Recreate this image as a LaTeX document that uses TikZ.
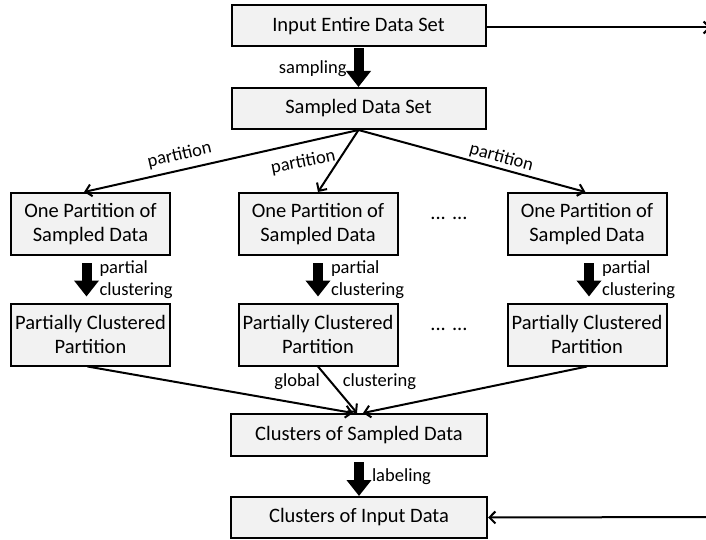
\documentclass[tikz,border=0pt]{standalone}
\usepackage{fontspec}
\setmainfont{Carlito}
\usetikzlibrary{arrows.meta,calc}
\definecolor{boxgray}{HTML}{F2F2F2}
\begin{document}
\begin{tikzpicture}[x=1pt,y=-1pt,
  box/.style={draw,line width=2pt,fill=boxgray,inner sep=0pt,align=center,
    font=\fontsize{20.5}{23.5}\selectfont},
  widebox/.style={box,minimum width=254pt,minimum height=41pt},
  smallbox/.style={box,minimum width=159pt,minimum height=62pt},
  lbl/.style={font=\fontsize{18.5}{21.5}\selectfont,inner sep=1pt,align=left},
  conn/.style={line width=2pt,-{Straight Barb[length=6pt,width=12pt,line width=2pt]}},
  bigarrow/.style={line width=10pt,-{Triangle[length=16pt,width=24pt]}}]
\useasboundingbox (0,0) rectangle (706,540);

\node[widebox] (inp) at (358.5,26) {Input Entire Data Set};
\node[widebox] (samp) at (358.5,108.5) {Sampled Data Set};
\node[smallbox] (p1) at (90.5,224) {One Partition of\\Sampled Data};
\node[smallbox] (p2) at (318,224) {One Partition of\\Sampled Data};
\node[smallbox] (p3) at (587,224) {One Partition of\\Sampled Data};
\node[smallbox] (c1) at (90.5,334.5) {Partially Clustered\\Partition};
\node[smallbox] (c2) at (318,334.5) {Partially Clustered\\Partition};
\node[smallbox] (c3) at (587,334.5) {Partially Clustered\\Partition};
\node[widebox,minimum width=256pt,minimum height=42pt] (csd) at (359,435) {Clusters of Sampled Data};
\node[widebox,minimum width=256pt,minimum height=41pt] (cid) at (359,517.5) {Clusters of Input Data};

\node[font=\fontsize{20.5}{23.5}\selectfont] (d1) at (449,218) {... ...};
\node[font=\fontsize{20.5}{23.5}\selectfont] (d2) at (449,329) {... ...};

\coordinate (r1) at (711,27.5);
\coordinate (r2) at (711,517);

% sampling
\draw[bigarrow] ($(inp.south)+(0,1)$) -- node[lbl,left=6pt,yshift=-1pt] {sampling} (samp.north);
% partitions
\draw[conn] (samp.south) -- node[lbl,pos=0.64,sloped,above=5pt] {partition}
  ($(p1.north west)!0.46!(p1.north east)$);
\draw[conn] (samp.south) -- node[lbl,pos=0.5,xshift=-35pt,yshift=-1pt,rotate=11] {partition} (p2.north);
\draw[conn] (samp.south) -- node[lbl,pos=0.617,sloped,above=1pt] {partition}
  ($(p3.north west)!0.49!(p3.north east)$);
% partial clustering
\draw[bigarrow] ($(p1.south)+(-4,7)$) -- node[lbl,right=7pt] {partial\\clustering} ($(c1.north)+(-4,-6)$);
\draw[bigarrow] ($(p2.south)+(0,7)$) -- node[lbl,right=7pt] {partial\\clustering} ($(c2.north)+(0,-6)$);
\draw[bigarrow] ($(p3.south)+(2,7)$) -- node[lbl,right=7pt] {partial\\clustering} ($(c3.north)+(2,-6)$);
% global clustering
\draw[conn] ($(c1.south)+(-3,0)$) -- ($(csd.north)+(-6,0)$);
\draw[conn] (c2.south) -- node[lbl,pos=0.33,anchor=east,xshift=-9pt] {global}
  node[lbl,pos=0.33,anchor=west,xshift=10pt] {clustering} ($(csd.north)+(-2,0)$);
\draw[conn] (c3.south) -- ($(csd.north)+(4,0)$);
% labeling
\draw[bigarrow] ($(csd.south)+(0,5)$) -- node[lbl,right=7pt,yshift=2pt] {labeling} (cid.north);
% right side
\draw[conn] (inp.east |- r1) -- (r1);
\draw[conn] (r2) -- (cid.east);
\end{tikzpicture}
\end{document}
